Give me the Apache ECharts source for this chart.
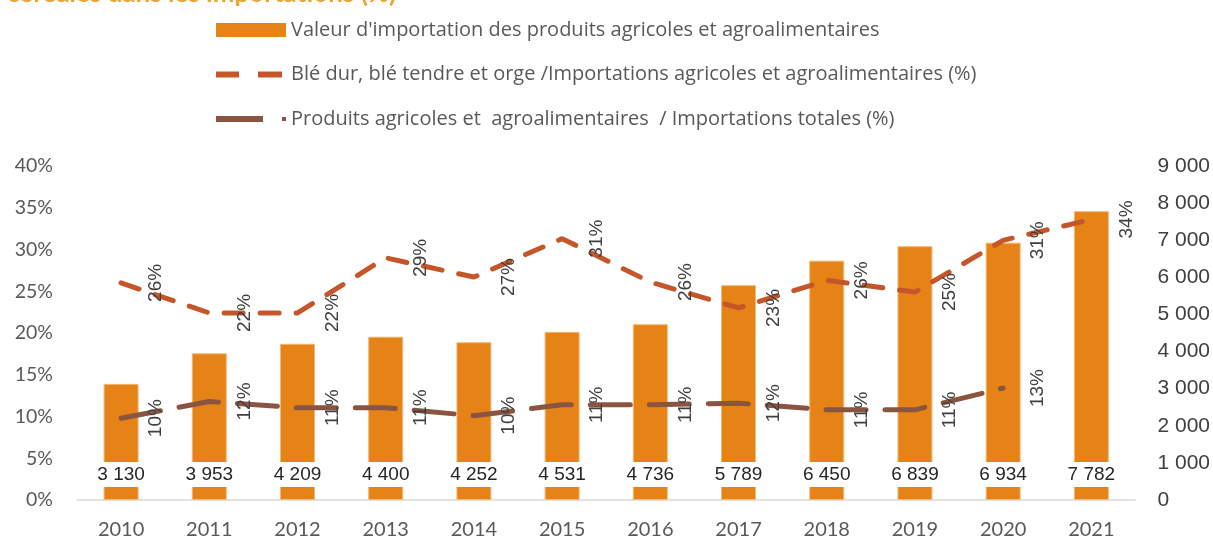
<!DOCTYPE html>
<html>
<head>
<meta charset="utf-8">
<script src="https://cdn.jsdelivr.net/npm/echarts@6/dist/echarts.min.js"></script>
<style>
html,body{margin:0;padding:0;background:#fff;}
#c{width:1213px;height:540px;}
</style>
</head>
<body>
<div id="c"></div>
<script>
var categories = ['2010','2011','2012','2013','2014','2015','2016','2017','2018','2019','2020','2021'];
var importValues = [3130, 3953, 4209, 4400, 4252, 4531, 4736, 5789, 6450, 6839, 6934, 7782];
var wheatShare = [26.0, 22.4, 22.4, 29.0, 26.7, 31.3, 26.1, 23.0, 26.3, 24.9, 31.1, 33.6];
var agriShare = [9.8, 11.8, 11.05, 11.05, 10.1, 11.4, 11.4, 11.6, 10.8, 10.8, 13.4];
var leftTicks = {min: 0, max: 40, interval: 5};
var rightTicks = {min: 0, max: 9000, interval: 1000};
var seriesNames = [
  "Valeur d'importation des produits agricoles et agroalimentaires",
  "Blé dur, blé tendre et orge /Importations agricoles et agroalimentaires (%)",
  "Produits agricoles et  agroalimentaires  / Importations totales (%)"
];
var titleText = 'céréales dans les importations (%)';

function fmtThousands(v){
  return String(v).replace(/\B(?=(\d{3})+(?!\d))/g, ' ');
}

var chart = echarts.init(document.getElementById('c'));
var pctLabel = {
  show: true, position: 'right', distance: 34, rotate: 90,
  align: 'center', verticalAlign: 'middle',
  color: '#404040', fontSize: 19, fontFamily: 'Liberation Sans',
  formatter: function(p){ return Math.round(p.value) + '%'; }
};
chart.setOption({
  animation: false,
  backgroundColor: '#fff',
  title: {
    text: titleText, left: 2, top: -24,
    textStyle: {color: '#EBA436', fontWeight: 'bold', fontSize: 26, fontFamily: 'Lato'}
  },
  legend: {
    orient: 'vertical', left: 211, top: 14,
    itemWidth: 70, itemHeight: 14, itemGap: 22.5,
    textStyle: {color: '#595959', fontSize: 20, fontFamily: 'Open Sans', lineHeight: 22, padding: [0,0,0,0]},
    data: [
      {name: seriesNames[0], icon: 'rect', itemStyle: {color: '#E58316', borderWidth: 0}},
      {name: seriesNames[1], icon: 'path://M0,0M70,14M0,4h23v6h-23z M42,4h24v6h-24z', itemStyle: {color: '#C5562A', borderWidth: 0}},
      {name: seriesNames[2], icon: 'path://M0,0M70,14M0,4h47v6h-47z M66,5h4v4h-4z', itemStyle: {color: '#8A5540', borderWidth: 0}}
    ]
  },
  grid: {left: 77, right: 77, top: 166, bottom: 40},
  xAxis: {
    type: 'category', data: categories,
    axisLine: {lineStyle: {color: '#D9D9D9', width: 1.5}},
    axisTick: {show: false},
    axisLabel: {color: '#595959', fontSize: 20, fontFamily: 'Lato', margin: 20}
  },
  yAxis: [
    {
      type: 'value', min: leftTicks.min, max: leftTicks.max, interval: leftTicks.interval,
      axisLine: {show: false}, axisTick: {show: false}, splitLine: {show: false},
      axisLabel: {color: '#595959', fontSize: 19.5, fontFamily: 'Lato', margin: 24, formatter: '{value}%'}
    },
    {
      type: 'value', min: rightTicks.min, max: rightTicks.max, interval: rightTicks.interval,
      axisLine: {show: false}, axisTick: {show: false}, splitLine: {show: false},
      axisLabel: {color: '#404040', fontSize: 21, fontFamily: 'Liberation Sans', margin: 22, formatter: function(v){return fmtThousands(v);}}
    }
  ],
  series: [
    {
      name: seriesNames[0], type: 'bar', yAxisIndex: 1, data: importValues,
      barWidth: 35,
      itemStyle: {color: '#E58316', borderColor: '#F3B877', borderWidth: 1},
      label: {
        show: true, position: 'insideBottom', distance: 13,
        backgroundColor: '#fff', padding: [3, 3],
        color: '#262626', fontSize: 19, fontFamily: 'Liberation Sans',
        formatter: function(p){ return fmtThousands(p.value); }
      },
      z: 1
    },
    {
      name: seriesNames[1], type: 'line', yAxisIndex: 0, data: wheatShare,
      symbol: 'circle', symbolSize: 2, showSymbol: true,
      itemStyle: {color: 'rgba(0,0,0,0)'},
      lineStyle: {color: '#C5562A', width: 5, type: [19, 17], cap: 'round'},
      label: pctLabel,
      z: 3
    },
    {
      name: seriesNames[2], type: 'line', yAxisIndex: 0, data: agriShare,
      symbol: 'circle', symbolSize: 2, showSymbol: true,
      itemStyle: {color: 'rgba(0,0,0,0)'},
      lineStyle: {color: '#8A5540', width: 5, type: [40, 19], cap: 'round'},
      label: pctLabel,
      z: 3
    }
  ]
});
</script>
</body>
</html>
